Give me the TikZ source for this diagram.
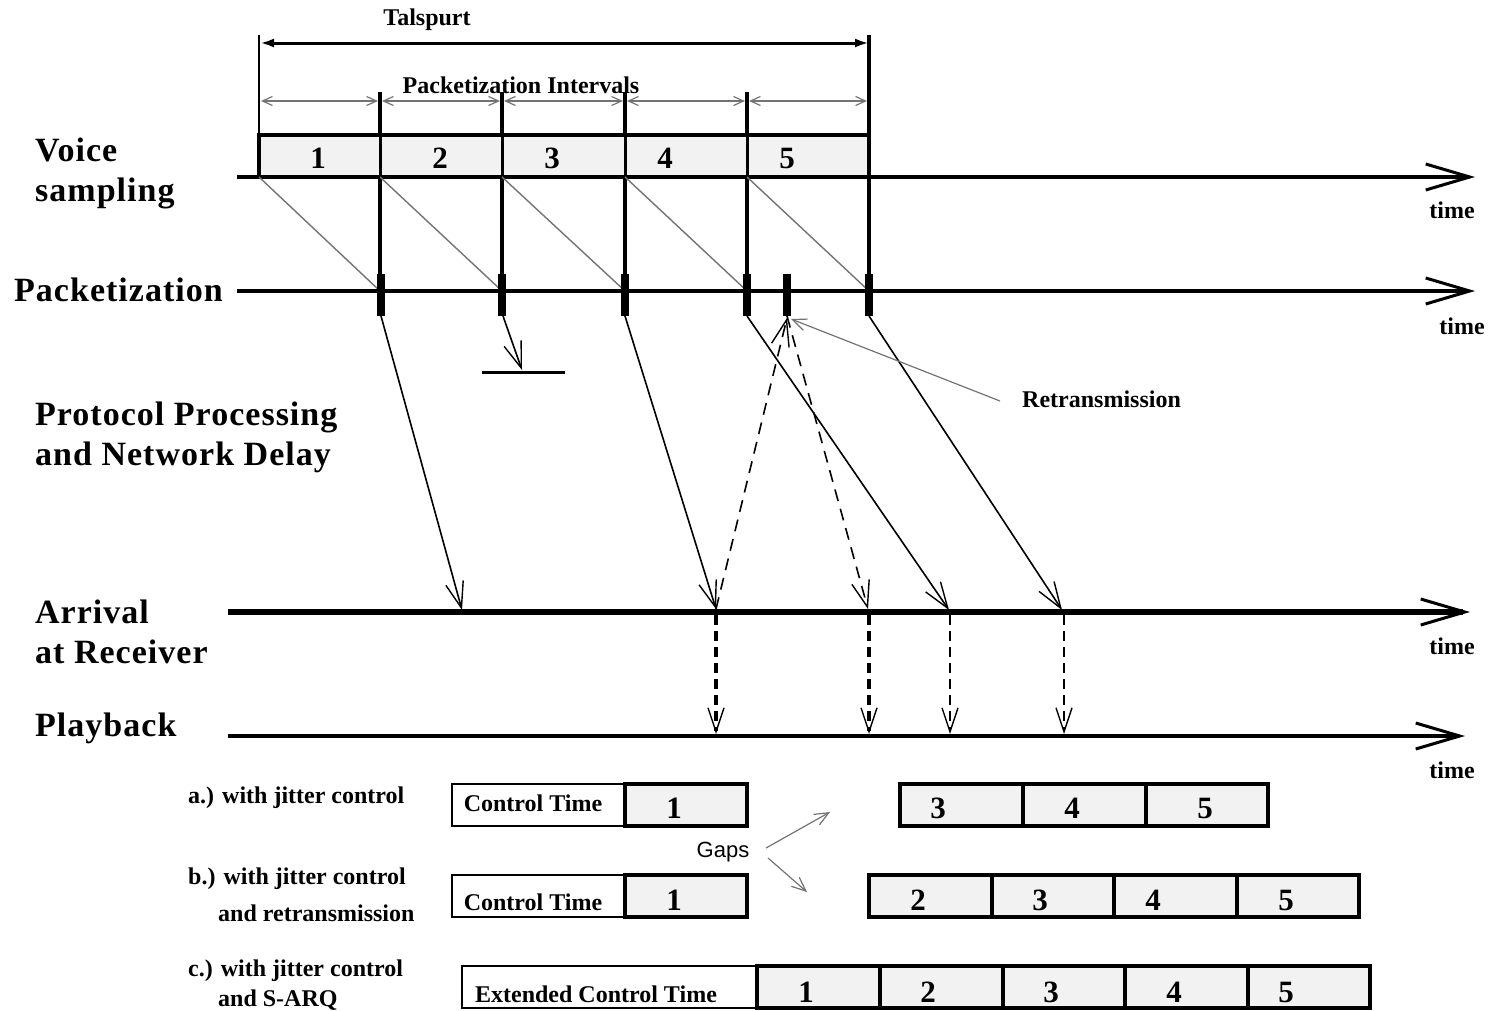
\documentclass[tikz,border=0pt]{standalone}
\usepackage{fontspec}
\setmainfont{Liberation Serif}
\setsansfont{Liberation Sans}
\usetikzlibrary{arrows.meta}

\begin{document}
\begin{tikzpicture}[x=1pt,y=-1pt,
  axis/.style={line width=4pt,-{Straight Barb[length=44pt,width=26pt,line width=3pt]}},
  hop/.style={line width=1.6pt,-{Straight Barb[length=26pt,width=18pt,line width=1.4pt]}},
  feed/.style={line width=1.4pt,black!55},
  lbl/.style={font=\fontsize{34}{40}\selectfont\bfseries\addfontfeature{LetterSpace=3},anchor=base west,inner sep=0pt},
  small/.style={font=\fontsize{24}{28}\selectfont\bfseries,inner sep=0pt},
  cell/.style={draw,line width=4pt,fill=black!5},
  num/.style={font=\fontsize{31}{34}\selectfont\bfseries,inner sep=0pt}]
  \useasboundingbox (0,0) rectangle (1491,1010);
  % talspurt and intervals
  \node[small] (tsp) at (427,20) {Talspurt};
  \draw[line width=3pt,{Latex[length=14pt,width=9pt]}-{Latex[length=14pt,width=9pt]}] (260,43) -- (869,43);
  \node[small] (pint) at (521,85) {Packetization Intervals};
  \foreach \a/\b in {259/380,380/502,502/625,625/747,747/869}
    \draw[line width=1.2pt,black!55,{Straight Barb[length=10pt,width=9pt]}-{Straight Barb[length=10pt,width=9pt]}] (\a+2,101) -- (\b-2,101);
  \draw[line width=1.5pt] (259,35) -- (259,135);
  \foreach \x in {380,502,625,747}
    \draw[line width=4pt] (\x,92) -- (\x,276);
  \draw[line width=4pt] (869,35) -- (869,276);
  % voice samples
  \draw[cell] (259,135) rectangle (869,177);
  \foreach \x/\a in {380,502,625,747} \draw[line width=3pt] (\x,135) -- (\x,177);
  \foreach \n/\x in {1/318,2/440,3/552,4/665,5/787}
    \node[num] (v\n) at (\x,158) {\n};
  \draw[axis] (237,177) -- (1475,177);
  \node[small] (t1) at (1452,210) {time};
  % packetization
  \foreach \a/\b in {259/380,380/502,502/625,625/747,747/869}
    \draw[feed] (\a,177) -- (\b,291);
  \draw[axis] (237,291) -- (1475,291);
  \node[small] (t2) at (1462,326) {time};
  \foreach \x in {381,502,625,747,787,869}
    \fill (\x-4,274) rectangle (\x+4,316);
  % network
  \draw[hop] (381,316) -- (462,610);
  \draw[hop] (503,316) -- (522,370);
  \draw[line width=3pt] (482,372) -- (565,372);
  \draw[hop] (625,316) -- (716,609);
  \draw[hop] (747,316) -- (949,610);
  \draw[hop] (869,316) -- (1062,610);
  \draw[hop,dash pattern=on 12pt off 8pt] (716,609) -- (787,318);
  \draw[hop,dash pattern=on 12pt off 8pt] (787,316) -- (868,609);
  \node[small,anchor=west] (rtx) at (1022,399) {Retransmission};
  \draw[line width=1.2pt,black!55,-{Straight Barb[length=14pt,width=12pt]}] (1000,401) -- (791,319);
  % arrival and playback
  \draw[axis,line width=6pt] (228,612) -- (1470,612);
  \node[small] (t3) at (1452,646) {time};
  \draw[axis] (228,736) -- (1465,736);
  \node[small] (t4) at (1452,770) {time};
  \foreach \x in {716,869}
    \draw[line width=4pt,dash pattern=on 10pt off 6pt,-{Straight Barb[length=24pt,width=16pt,line width=1.4pt]}] (\x,615) -- (\x,734);
  \foreach \x in {950,1064}
    \draw[line width=1.6pt,dash pattern=on 10pt off 6pt,-{Straight Barb[length=24pt,width=16pt,line width=1.4pt]}] (\x,615) -- (\x,734);
  % left labels
  \node[lbl] (vs1) at (35,161) {Voice};
  \node[lbl] (vs2) at (35,201) {sampling};
  \node[lbl] (pk) at (14,301) {Packetization};
  \node[lbl] (pp1) at (35,425) {Protocol Processing};
  \node[lbl] (pp2) at (35,465) {and Network Delay};
  \node[lbl] (ar1) at (35,623) {Arrival};
  \node[lbl] (ar2) at (35,663) {at Receiver};
  \node[lbl] (pb) at (35,736) {Playback};
  % cases
  \node[small,anchor=base west] (ca1) at (188,803) {a.) with jitter control};
  \node[small,anchor=base west] (cb1) at (188,884) {b.) with jitter control};
  \node[small,anchor=base west] (cb2) at (218,921) {and retransmission};
  \node[small,anchor=base west] (cc1) at (188,976) {c.) with jitter control};
  \node[small,anchor=base west] (cc2) at (218,1006) {and S-ARQ};
  % row a
  \draw[line width=1.5pt] (452,784) rectangle (625,826);
  \node[small] (cta) at (533,803) {Control Time};
  \foreach \a/\b/\n/\x in {625/747/1/674,900/1023/3/938,1023/1146/4/1072,1146/1268/5/1205} {
    \draw[cell] (\a,784) rectangle (\b,826);
    \node[num] at (\x,808) {\n};
  }
  % row b
  \draw[line width=1.5pt] (452,875) rectangle (625,917);
  \node[small] (ctb) at (533,902) {Control Time};
  \foreach \a/\b/\n/\x in {625/747/1/674,869/992/2/918,992/1114/3/1040,1114/1237/4/1153,1237/1359/5/1286} {
    \draw[cell] (\a,875) rectangle (\b,917);
    \node[num] at (\x,900) {\n};
  }
  % row c
  \draw[line width=1.5pt] (462,966) rectangle (757,1008);
  \node[small] (ctc) at (596,994) {Extended Control Time};
  \foreach \a/\b/\n/\x in {757/880/1/806,880/1003/2/928,1003/1125/3/1051,1125/1248/4/1174,1248/1370/5/1286} {
    \draw[cell] (\a,966) rectangle (\b,1008);
    \node[num] at (\x,992) {\n};
  }
  % gaps
  \node[font=\sffamily\fontsize{22}{26}\selectfont,inner sep=0pt] (gp) at (723,852) {Gaps};
  \draw[line width=1.2pt,black!55,-{Straight Barb[length=14pt,width=12pt]}] (766,848) -- (830,812);
  \draw[line width=1.2pt,black!55,-{Straight Barb[length=14pt,width=12pt]}] (768,858) -- (807,892);
\end{tikzpicture}
\end{document}
